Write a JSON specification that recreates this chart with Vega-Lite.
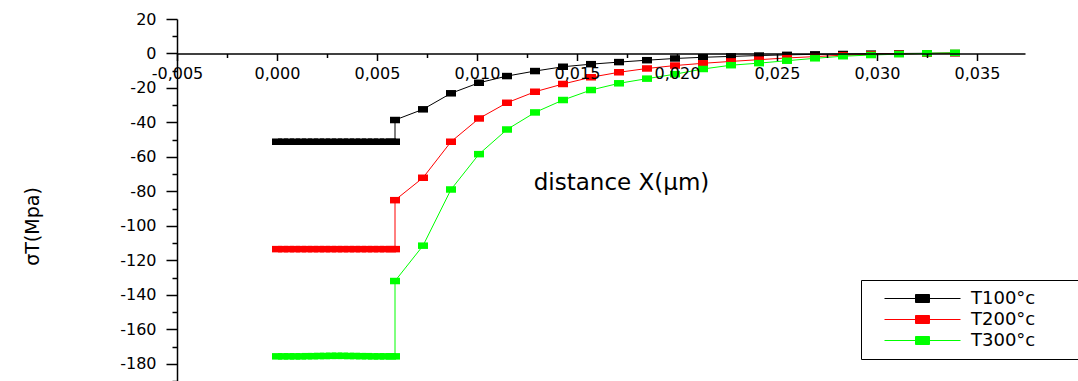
{
  "$schema": "https://vega.github.io/schema/vega-lite/v6.json",
  "width": 848,
  "height": 362,
  "autosize": {"type": "none"},
  "padding": {"left": 177, "top": 19, "right": 53, "bottom": 0},
  "background": "white",
  "config": {
    "view": {"stroke": null},
    "font": "DejaVu Sans",
    "locale": {"number": {"decimal": ",", "thousands": ".", "grouping": [3], "currency": ["", " €"], "minus": "-"}}
  },
  "data": {"values": [
    {"i": 0, "x": 0, "T100°c": -51.2, "T200°c": -113.5, "T300°c": -175.7},
    {"i": 1, "x": 0.0003, "T100°c": -51.2, "T200°c": -113.5, "T300°c": -175.7},
    {"i": 2, "x": 0.0006, "T100°c": -51.2, "T200°c": -113.5, "T300°c": -175.7},
    {"i": 3, "x": 0.0009, "T100°c": -51.2, "T200°c": -113.5, "T300°c": -175.7},
    {"i": 4, "x": 0.0012, "T100°c": -51.2, "T200°c": -113.5, "T300°c": -175.7},
    {"i": 5, "x": 0.0015, "T100°c": -51.2, "T200°c": -113.5, "T300°c": -175.6},
    {"i": 6, "x": 0.0018, "T100°c": -51.2, "T200°c": -113.5, "T300°c": -175.6},
    {"i": 7, "x": 0.0021, "T100°c": -51.2, "T200°c": -113.5, "T300°c": -175.5},
    {"i": 8, "x": 0.0024, "T100°c": -51.2, "T200°c": -113.5, "T300°c": -175.5},
    {"i": 9, "x": 0.0027, "T100°c": -51.2, "T200°c": -113.5, "T300°c": -175.4},
    {"i": 10, "x": 0.003, "T100°c": -51.2, "T200°c": -113.5, "T300°c": -175.4},
    {"i": 11, "x": 0.0033, "T100°c": -51.2, "T200°c": -113.5, "T300°c": -175.4},
    {"i": 12, "x": 0.0036, "T100°c": -51.2, "T200°c": -113.5, "T300°c": -175.5},
    {"i": 13, "x": 0.0039, "T100°c": -51.2, "T200°c": -113.5, "T300°c": -175.5},
    {"i": 14, "x": 0.0042, "T100°c": -51.2, "T200°c": -113.5, "T300°c": -175.6},
    {"i": 15, "x": 0.0045, "T100°c": -51.2, "T200°c": -113.5, "T300°c": -175.6},
    {"i": 16, "x": 0.0048, "T100°c": -51.2, "T200°c": -113.5, "T300°c": -175.7},
    {"i": 17, "x": 0.0051, "T100°c": -51.2, "T200°c": -113.5, "T300°c": -175.7},
    {"i": 18, "x": 0.0054, "T100°c": -51.2, "T200°c": -113.5, "T300°c": -175.7},
    {"i": 19, "x": 0.0057, "T100°c": -51.2, "T200°c": -113.5, "T300°c": -175.7},
    {"i": 20, "x": 0.0059, "T100°c": -51.2, "T200°c": -113.5, "T300°c": -175.7},
    {"i": 21, "x": 0.0059, "T100°c": -38.6, "T200°c": -85.1, "T300°c": -132.0},
    {"i": 22, "x": 0.0073, "T100°c": -32.4, "T200°c": -72.1, "T300°c": -111.5},
    {"i": 23, "x": 0.0087, "T100°c": -23.1, "T200°c": -51.2, "T300°c": -78.9},
    {"i": 24, "x": 0.0101, "T100°c": -17.0, "T200°c": -37.7, "T300°c": -58.4},
    {"i": 25, "x": 0.0115, "T100°c": -13.1, "T200°c": -28.6, "T300°c": -44.1},
    {"i": 26, "x": 0.0129, "T100°c": -10.2, "T200°c": -22.2, "T300°c": -34.2},
    {"i": 27, "x": 0.0143, "T100°c": -7.7, "T200°c": -17.7, "T300°c": -27.0},
    {"i": 28, "x": 0.0157, "T100°c": -6.2, "T200°c": -13.8, "T300°c": -21.2},
    {"i": 29, "x": 0.0171, "T100°c": -5.0, "T200°c": -10.9, "T300°c": -17.3},
    {"i": 30, "x": 0.0185, "T100°c": -3.9, "T200°c": -8.7, "T300°c": -14.6},
    {"i": 31, "x": 0.0199, "T100°c": -2.9, "T200°c": -7.0, "T300°c": -12.0},
    {"i": 32, "x": 0.0213, "T100°c": -2.2, "T200°c": -5.7, "T300°c": -9.0},
    {"i": 33, "x": 0.0227, "T100°c": -1.7, "T200°c": -4.6, "T300°c": -6.8},
    {"i": 34, "x": 0.0241, "T100°c": -1.2, "T200°c": -3.6, "T300°c": -5.6},
    {"i": 35, "x": 0.0255, "T100°c": -0.8, "T200°c": -2.6, "T300°c": -4.2},
    {"i": 36, "x": 0.0269, "T100°c": -0.5, "T200°c": -1.8, "T300°c": -2.8},
    {"i": 37, "x": 0.0283, "T100°c": -0.3, "T200°c": -1.0, "T300°c": -1.6},
    {"i": 38, "x": 0.0297, "T100°c": -0.1, "T200°c": -0.5, "T300°c": -0.9},
    {"i": 39, "x": 0.0311, "T100°c": 0.0, "T200°c": -0.2, "T300°c": -0.4},
    {"i": 40, "x": 0.0325, "T100°c": 0.1, "T200°c": 0.0, "T300°c": 0.1},
    {"i": 41, "x": 0.0339, "T100°c": 0.2, "T200°c": 0.2, "T300°c": 0.4}
  ]},
  "transform": [{"fold": ["T100°c", "T200°c", "T300°c"], "as": ["series", "sigma"]}],
  "encoding": {
    "x": {
      "field": "x", "type": "quantitative",
      "scale": {"domain": [-0.005, 0.0374], "nice": false, "zero": false},
      "axis": {
        "values": [-0.005, -0.0025, 0, 0.0025, 0.005, 0.0075, 0.01, 0.0125, 0.015, 0.0175, 0.02, 0.0225, 0.025, 0.0275, 0.03, 0.0325, 0.035],
        "format": ".3f",
        "labelExpr": "abs(round(datum.value*400)) % 2 === 0 ? datum.label : ''",
        "offset": -327.5,
        "grid": false,
        "domainColor": "black", "domainWidth": 1.5,
        "tickColor": "black", "tickWidth": 1.5,
        "tickSize": {"condition": {"test": "abs(round(datum.value*400)) % 2 === 0", "value": 7}, "value": 4},
        "labelFont": "DejaVu Sans", "labelFontSize": 16, "labelColor": "black",
        "labelPadding": 5, "labelBaseline": "top", "labelFlush": false, "labelOverlap": false,
        "title": "distance X(μm)",
        "titleFont": "DejaVu Sans", "titleFontSize": 23, "titleFontWeight": "normal", "titleColor": "black",
        "titleX": 444, "titleY": 128.5, "titleBaseline": "middle", "titleAlign": "center", "titleAngle": 0,
        "zindex": 1
      }
    },
    "y": {
      "field": "sigma", "type": "quantitative",
      "scale": {"domain": [-190, 20], "nice": false, "zero": false},
      "axis": {
        "values": [-190, -180, -170, -160, -150, -140, -130, -120, -110, -100, -90, -80, -70, -60, -50, -40, -30, -20, -10, 0, 10, 20],
        "format": "d",
        "labelExpr": "datum.value % 20 === 0 ? datum.label : ''",
        "grid": false,
        "domainColor": "black", "domainWidth": 1.5,
        "tickColor": "black", "tickWidth": 1.5,
        "tickSize": {"condition": {"test": "datum.value % 20 === 0", "value": 11}, "value": 5},
        "labelFont": "DejaVu Sans", "labelFontSize": 16, "labelColor": "black",
        "labelPadding": 10, "labelFlush": false, "labelOverlap": false,
        "title": "σT(Mpa)",
        "titleFont": "DejaVu Sans", "titleFontSize": 19, "titleFontWeight": "normal", "titleColor": "black",
        "titleX": -144.5, "titleY": 207, "titleAngle": -90, "titleAlign": "center", "titleBaseline": "middle"
      }
    },
    "color": {
      "field": "series", "type": "nominal",
      "scale": {"domain": ["T100°c", "T200°c", "T300°c"], "range": ["#000000", "#ff0000", "#00ff00"]},
      "legend": {
        "orient": "none", "legendX": 684, "legendY": 261,
        "title": "\u00a0", "titleOrient": "right", "titlePadding": 40, "titleFontSize": 8,
        "strokeColor": "black", "fillColor": "white", "padding": 8,
        "symbolType": "M-1,0H1M-0.184,-0.105H0.184V0.105H-0.184Z",
        "symbolSize": 5776, "symbolOffset": 15, "symbolStrokeWidth": 1,
        "clipHeight": 21,
        "labelOffset": 10, "labelFont": "DejaVu Sans", "labelFontSize": 18, "labelColor": "black",
        "rowPadding": 0,
        "encode": {"symbols": {"update": {
          "fill": {"scale": "color", "field": "value"},
          "stroke": {"scale": "color", "field": "value"},
          "strokeWidth": {"value": 1},
          "size": {"value": 5776},
          "opacity": {"value": 1}
        }}}
      }
    }
  },
  "layer": [
    {"mark": {"type": "line", "strokeWidth": 1}, "encoding": {"order": {"field": "i", "type": "quantitative"}}},
    {"mark": {"type": "point", "shape": "M-1,-0.65H1V0.65H-1Z", "filled": true, "size": 100, "opacity": 1, "strokeWidth": 0}}
  ]
}
